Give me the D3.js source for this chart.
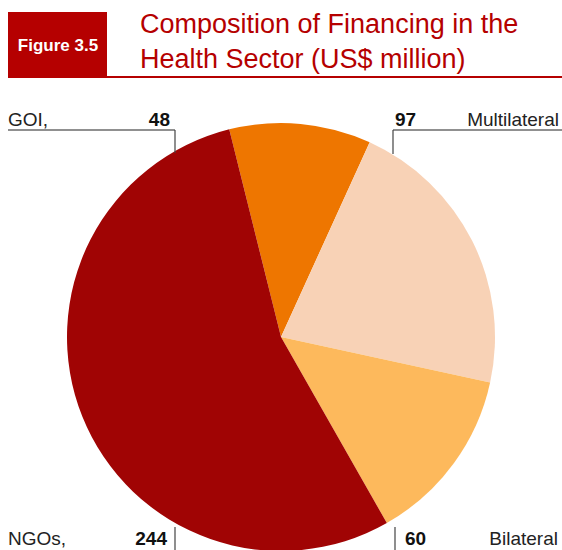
<!DOCTYPE html>
<html>
<head>
  <meta charset="utf-8"><script src="https://d3js.org/d3.v7.min.js"></script>
  <style>body{margin:0;background:#fff} text{font-family:"Liberation Sans",Arial,sans-serif}</style>
</head>
<body>
  <svg id="mychart" width="562" height="550" style="background: white"></svg>
<script>
  const categories = ["GOI", "Multilateral", "Bilateral", "NGOs"]
  const values = [48, 97, 60, 244]
  const colors = ["#ee7600", "#f8d2b6", "#fdb95c", "#a00404"]

  const width = 562, height = 550
  const cx = 281, cy = 337, radius = 214
  const red = "#b50000"

  const svg = d3.select("#mychart")

  // heading
  svg.append("rect").attr("x", 8).attr("y", 12).attr("width", 99).attr("height", 66).attr("fill", red)
  svg.append("text").attr("x", 58).attr("y", 51).attr("text-anchor", "middle")
    .attr("fill", "white").attr("font-weight", "bold").attr("font-size", 17).text("Figure 3.5")
  svg.append("line").attr("x1", 107).attr("x2", width).attr("y1", 77).attr("y2", 77)
    .attr("stroke", red).attr("stroke-width", 2)
  svg.append("text").attr("x", 140).attr("y", 33).attr("fill", red).attr("font-size", 27).text("Composition of Financing in the")
  svg.append("text").attr("x", 140).attr("y", 68).attr("fill", red).attr("font-size", 27).text("Health Sector (US$ million)")

  const pie = d3.pie().sort(null)
    .startAngle(-14 * Math.PI / 180).endAngle(346 * Math.PI / 180)
  const arc = d3.arc().innerRadius(0).outerRadius(radius)

  svg.append("g").attr("transform", `translate(${cx},${cy})`)
    .selectAll("path").data(pie(values)).join("path")
    .attr("fill", (d, i) => colors[i]).attr("d", arc)

  // callout labels
  const labels = [
    {name: "GOI,", nx: 8, na: "start", vx: 170, va: "end", hy: 130, hx1: 8, hx2: 175, vxl: 175, vy1: 130, vy2: 153, ty: 126},
    {name: "Multilateral", nx: 559, na: "end", vx: 395, va: "start", hy: 130, hx1: 393, hx2: 562, vxl: 393, vy1: 130, vy2: 154, ty: 126},
    {name: "Bilateral", nx: 558, na: "end", vx: 405, va: "start", hy: null, vxl: 395, vy1: 527, vy2: 550, ty: 545},
    {name: "NGOs,", nx: 8, na: "start", vx: 167, va: "end", hy: null, vxl: 175, vy1: 527, vy2: 550, ty: 545}
  ]

  const lab = svg.append("g")
  labels.forEach((l, i) => {
    if (l.hy !== null) lab.append("line").attr("x1", l.hx1).attr("x2", l.hx2).attr("y1", l.hy).attr("y2", l.hy)
      .attr("stroke", "#222").attr("stroke-width", 1.2)
    lab.append("line").attr("x1", l.vxl).attr("x2", l.vxl).attr("y1", l.vy1).attr("y2", l.vy2)
      .attr("stroke", "#444").attr("stroke-width", 1.2)
    lab.append("text").attr("x", l.nx).attr("y", l.ty).attr("text-anchor", l.na)
      .attr("font-size", 19).attr("fill", "#222").text(l.name)
    lab.append("text").attr("x", l.vx).attr("y", l.ty).attr("text-anchor", l.va)
      .attr("font-size", 19).attr("font-weight", "bold").attr("fill", "#111").text(values[i])
  })
</script>
</body>
</html>
